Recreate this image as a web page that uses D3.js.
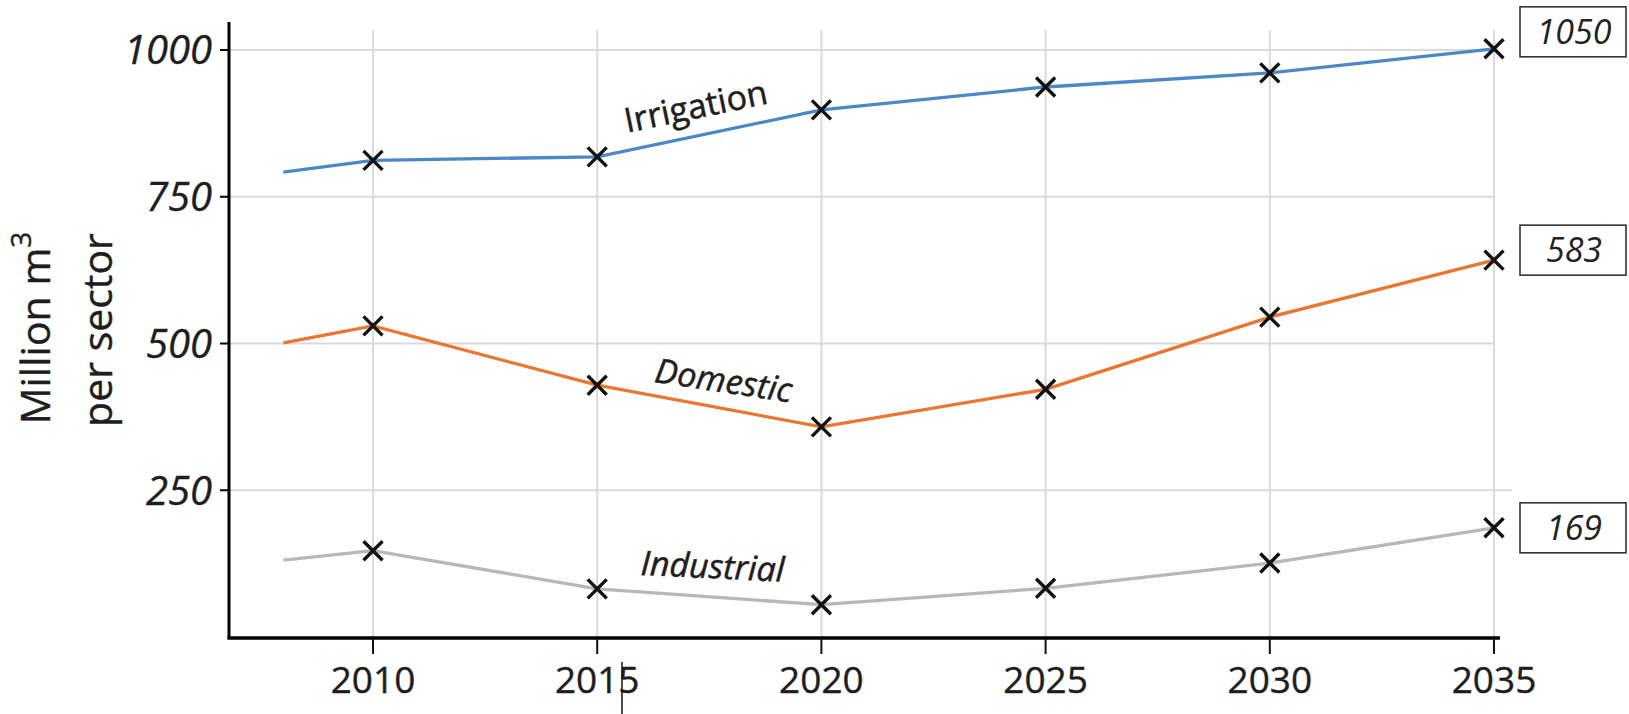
<!DOCTYPE html>
<html>
<head>
<meta charset="utf-8">
<script src="https://cdn.jsdelivr.net/npm/d3@7"></script>
<style>
  html, body { margin: 0; padding: 0; background: #fff; }
  svg { display: block; }
</style>
</head>
<body>
<div id="chart"></div>
<script>
// values
var years = [2008, 2010, 2015, 2020, 2025, 2030, 2035];
var markerYears = [2010, 2015, 2020, 2025, 2030, 2035];
var irrigation = [792, 812, 818, 898, 937, 961, 1002];
var domestic = [501, 530, 429, 358, 422, 545, 642];
var industrial = [131, 147, 82, 55, 83, 126, 186];
var seriesNames = ["Irrigation", "Domestic", "Industrial"];
var endLabels = ["1050", "583", "169"];
var yTicks = [250, 500, 750, 1000];
var xTicks = [2010, 2015, 2020, 2025, 2030, 2035];

(function () {
  var W = 1629, H = 714;
  var svg = d3.select("#chart").append("svg").attr("width", W).attr("height", H);
  var font = "'Open Sans', 'Noto Sans', sans-serif";
  var ink = "#1e1e1e";

  var x = d3.scaleLinear().domain([2010, 2035]).range([373, 1494]);
  var y = d3.scaleLinear().domain([0, 1000]).range([637, 50]);
  var axX = 229, axY = 638;

  var series = [
    { name: seriesNames[0], values: irrigation, color: "#4c87c7", italic: false, lab: { yr: 2017.25, v: 884, a: -11.7 }, box: -17 },
    { name: seriesNames[1], values: domestic, color: "#ea7630", italic: true, lab: { yr: 2017.78, v: 417, a: 8.6 }, box: -10 },
    { name: seriesNames[2], values: industrial, color: "#b8b8b8", italic: true, lab: { yr: 2017.56, v: 100, a: 2.7 }, box: 0 }
  ];

  // gridlines
  var grid = svg.append("g").attr("stroke", "#dadada").attr("stroke-width", 2);
  grid.selectAll("line.h").data(yTicks).enter().append("line")
    .attr("x1", axX).attr("x2", function (d) { return d === 250 ? 1512 : x(2035); })
    .attr("y1", function (d) { return y(d); }).attr("y2", function (d) { return y(d); });
  grid.selectAll("line.v").data(xTicks).enter().append("line")
    .attr("x1", function (d) { return x(d); }).attr("x2", function (d) { return x(d); })
    .attr("y1", 30).attr("y2", axY);

  // series lines
  var line = d3.line().x(function (d) { return x(d[0]); }).y(function (d) { return y(d[1]); });
  series.forEach(function (s) {
    var pts = years.map(function (yr, i) { return [yr, s.values[i]]; });
    svg.append("path").attr("d", line(pts)).attr("fill", "none")
      .attr("stroke", s.color).attr("stroke-width", 3.3);
  });

  // X markers
  var r = 9.5;
  series.forEach(function (s) {
    var pts = years.map(function (yr, i) { return [yr, s.values[i]]; })
      .filter(function (p) { return markerYears.indexOf(p[0]) >= 0; });
    svg.append("g").selectAll("path").data(pts).enter().append("path")
      .attr("d", function (p) {
        var cx = x(p[0]), cy = y(p[1]);
        return "M" + (cx - r) + "," + (cy - r) + "L" + (cx + r) + "," + (cy + r) +
               "M" + (cx - r) + "," + (cy + r) + "L" + (cx + r) + "," + (cy - r);
      })
      .attr("stroke", "#111").attr("stroke-width", 3.4).attr("fill", "none");
  });

  // series name labels along the lines
  series.forEach(function (s) {
    var lx = x(s.lab.yr), ly = y(s.lab.v);
    svg.append("text")
      .attr("transform", "translate(" + lx + "," + ly + ") rotate(" + s.lab.a + ")")
      .attr("text-anchor", "middle").attr("font-family", font).attr("font-size", 34)
      .attr("font-style", s.italic ? "italic" : "normal").attr("fill", ink)
      .attr("stroke", ink).attr("stroke-width", 0.5)
      .text(s.name);
  });

  // end value boxes
  series.forEach(function (s, i) {
    var cy = y(s.values[s.values.length - 1]) + s.box;
    svg.append("rect").attr("x", 1520).attr("y", cy - 25).attr("width", 106).attr("height", 50)
      .attr("fill", "#fff").attr("stroke", "#333").attr("stroke-width", 1.6);
    svg.append("text").attr("x", 1574).attr("y", cy).attr("dy", "0.36em")
      .attr("text-anchor", "middle").attr("font-family", font).attr("font-size", 34)
      .attr("font-style", "italic").attr("fill", "#222").text(endLabels[i]);
  });

  // axes
  svg.append("line").attr("x1", axX).attr("x2", axX).attr("y1", 22).attr("y2", axY + 1)
    .attr("stroke", "#000").attr("stroke-width", 3);
  svg.append("line").attr("x1", axX - 1.5).attr("x2", 1500).attr("y1", axY).attr("y2", axY)
    .attr("stroke", "#000").attr("stroke-width", 3.5);

  var yt = svg.append("g").selectAll("g").data(yTicks).enter().append("g");
  yt.append("line").attr("x1", axX - 9).attr("x2", axX)
    .attr("y1", function (d) { return y(d); }).attr("y2", function (d) { return y(d); })
    .attr("stroke", "#000").attr("stroke-width", 2);
  yt.append("text").attr("x", 212).attr("y", function (d) { return y(d); }).attr("dy", "0.36em")
    .attr("text-anchor", "end").attr("font-family", font).attr("font-size", 40)
    .attr("font-style", "italic").attr("fill", ink).attr("stroke", ink).attr("stroke-width", 0.4)
    .text(function (d) { return d; });

  var xt = svg.append("g").selectAll("g").data(xTicks).enter().append("g");
  xt.append("line").attr("x1", function (d) { return x(d); }).attr("x2", function (d) { return x(d); })
    .attr("y1", axY).attr("y2", 654).attr("stroke", "#111").attr("stroke-width", 2);
  xt.append("text").attr("x", function (d) { return x(d); }).attr("y", 693)
    .attr("text-anchor", "middle").attr("font-family", font).attr("font-size", 37)
    .attr("fill", ink).attr("stroke", ink).attr("stroke-width", 0.4)
    .text(function (d) { return d; });

  // stray cursor mark under "2015"
  svg.append("line").attr("x1", 622).attr("x2", 622).attr("y1", 662).attr("y2", H)
    .attr("stroke", "#111").attr("stroke-width", 1.5);

  // y axis title
  var t1 = svg.append("text").attr("transform", "translate(50,328) rotate(-90)")
    .attr("text-anchor", "middle").attr("font-family", font).attr("font-size", 41)
    .attr("fill", ink).attr("stroke", ink).attr("stroke-width", 0.4);
  t1.append("tspan").text("Million m");
  t1.append("tspan").attr("baseline-shift", "super").attr("font-size", 28).text("3");
  svg.append("text").attr("transform", "translate(112,330) rotate(-90)")
    .attr("text-anchor", "middle").attr("font-family", font).attr("font-size", 41)
    .attr("fill", ink).attr("stroke", ink).attr("stroke-width", 0.4).text("per sector");
})();
</script>
</body>
</html>
